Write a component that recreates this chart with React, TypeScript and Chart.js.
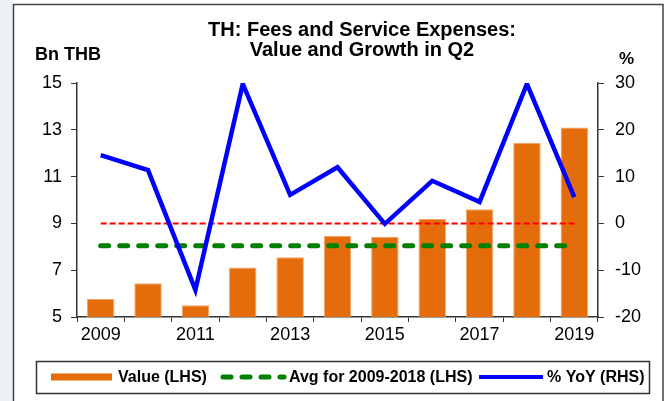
import React, { useEffect, useRef } from 'react';
import { Chart, registerables } from 'chart.js';

Chart.register(...registerables);

// ---------- data ----------
const years = ['2009', '2010', '2011', '2012', '2013', '2014', '2015', '2016', '2017', '2018', '2019'];
const valueBn = [5.77, 6.44, 5.5, 7.12, 7.55, 8.46, 8.43, 9.19, 9.6, 12.45, 13.1];
const yoyPct = [14.6, 11.4, -14.2, 29.8, 6.1, 12.0, -0.1, 9.1, 4.6, 29.8, 5.6];
const avg2009to2018 = 8.05;
const zeroRef = 0;
const leftAxis = { min: 5, max: 15, step: 2 };
const rightAxis = { min: -20, max: 30, step: 10 };
const titleLines = ['TH: Fees and Service Expenses:', 'Value and Growth in Q2'];
const leftUnit = 'Bn THB';
const rightUnit = '%';
const legendLabels = ['Value (LHS)', 'Avg for 2009-2018 (LHS)', '% YoY (RHS)'];

const FONT = "'Liberation Sans', Arial, sans-serif";
const ORANGE = '#E46C0A';
const GREEN = '#008000';
const BLUE = '#0000FF';
const RED = '#FF0000';

const decorations = {
  id: 'decorations',
  beforeDraw(chart: any) {
    const ctx = chart.ctx;
    ctx.save();
    ctx.fillStyle = '#ffffff';
    ctx.fillRect(0, 0, 669, 401);
    ctx.fillStyle = '#eef0f8';
    ctx.fillRect(0, 0, 13, 401);
    ctx.strokeStyle = '#444';
    ctx.lineWidth = 1.5;
    ctx.strokeRect(13.5, 4.5, 649.5, 420);
    ctx.restore();
  },
  afterDraw(chart: any) {
    const ctx = chart.ctx;
    ctx.save();
    ctx.fillStyle = '#000';
    ctx.textBaseline = 'alphabetic';
    // title
    ctx.font = `bold 20px ${FONT}`;
    ctx.textAlign = 'center';
    ctx.fillText(titleLines[0], 362, 36);
    ctx.fillText(titleLines[1], 362, 56);
    // units
    ctx.textAlign = 'left';
    ctx.font = `bold 18px ${FONT}`;
    ctx.fillText(leftUnit, 35, 60);
    ctx.font = `bold 17px ${FONT}`;
    ctx.fillText(rightUnit, 619, 64);

    // legend box
    ctx.strokeStyle = '#333';
    ctx.lineWidth = 1.5;
    ctx.strokeRect(36.5, 361.5, 613, 32);
    const cy = 377;
    ctx.fillStyle = ORANGE;
    ctx.fillRect(51, cy - 3.5, 61, 7);

    ctx.lineCap = 'round';
    ctx.strokeStyle = GREEN;
    ctx.lineWidth = 5;
    ctx.setLineDash([8, 11]);
    ctx.beginPath();
    ctx.moveTo(223, cy);
    ctx.lineTo(284, cy);
    ctx.stroke();
    ctx.setLineDash([]);

    ctx.lineCap = 'butt';
    ctx.strokeStyle = BLUE;
    ctx.lineWidth = 4;
    ctx.beginPath();
    ctx.moveTo(479, cy);
    ctx.lineTo(543, cy);
    ctx.stroke();

    ctx.fillStyle = '#000';
    ctx.font = `bold 16px ${FONT}`;
    ctx.textBaseline = 'middle';
    ctx.fillText(legendLabels[0], 118, cy + 1);
    ctx.fillText(legendLabels[1], 289, cy + 1);
    ctx.fillText(legendLabels[2], 547, cy + 1);
    ctx.restore();
  },
};

export default function App() {
  const ref = useRef<HTMLCanvasElement | null>(null);

  useEffect(() => {
    if (!ref.current) return;
    const avgData = years.map(() => avg2009to2018);
    const zeroData = years.map(() => zeroRef);
    const chart = new Chart(ref.current, {
      type: 'bar',
      data: {
        labels: years,
        datasets: [
          {
            type: 'bar',
            label: legendLabels[0],
            data: valueBn,
            backgroundColor: ORANGE,
            borderColor: '#F0A468',
            borderWidth: 1,
            yAxisID: 'y',
            barPercentage: 0.58,
            categoryPercentage: 1,
            order: 4,
          },
          {
            type: 'line',
            label: 'zero',
            data: zeroData,
            borderColor: RED,
            borderWidth: 2,
            borderDash: [6, 3],
            pointRadius: 0,
            yAxisID: 'y1',
            order: 3,
          },
          {
            type: 'line',
            label: legendLabels[1],
            data: avgData,
            borderColor: GREEN,
            borderWidth: 5,
            borderDash: [8, 11],
            borderCapStyle: 'round',
            pointRadius: 0,
            yAxisID: 'y',
            order: 2,
          },
          {
            type: 'line',
            label: legendLabels[2],
            data: yoyPct,
            borderColor: BLUE,
            borderWidth: 4.5,
            borderJoinStyle: 'miter',
            tension: 0,
            pointRadius: 0,
            yAxisID: 'y1',
            order: 1,
          },
        ] as any,
      },
      options: {
        responsive: false,
        animation: false,
        devicePixelRatio: 1,
        layout: { padding: { left: 0, right: 0, top: 83, bottom: 54 } },
        plugins: {
          legend: { display: false },
          title: { display: false },
          tooltip: { enabled: false },
        },
        scales: {
          x: {
            offset: true,
            grid: { display: true, drawOnChartArea: false, tickLength: 5, color: '#333', offset: true },
            border: { color: '#333', width: 1.5 },
            ticks: {
              autoSkip: false,
              maxRotation: 0,
              padding: 2,
              color: '#000',
              font: { family: FONT, size: 18 },
              callback: (_v: any, i: number) => (i % 2 === 0 ? years[i] : ''),
            },
            afterFit: (s: any) => { s.height = 30; },
          },
          y: {
            position: 'left',
            min: leftAxis.min,
            max: leftAxis.max,
            grid: { display: true, drawOnChartArea: false, tickLength: 6, color: '#333' },
            border: { color: '#333', width: 1.5 },
            ticks: {
              stepSize: leftAxis.step,
              padding: 9,
              color: '#000',
              font: { family: FONT, size: 18 },
            },
            afterFit: (s: any) => { s.width = 77; },
          },
          y1: {
            position: 'right',
            min: rightAxis.min,
            max: rightAxis.max,
            grid: { display: true, drawOnChartArea: false, tickLength: 6, color: '#333' },
            border: { color: '#333', width: 1.5 },
            ticks: {
              stepSize: rightAxis.step,
              padding: 11,
              color: '#000',
              font: { family: FONT, size: 18 },
            },
            afterFit: (s: any) => { s.width = 71; },
          },
        },
      } as any,
      plugins: [decorations],
    });
    return () => chart.destroy();
  }, []);

  return (
    <div style={{ position: 'absolute', left: 0, top: 0, width: 669, height: 401, background: '#fff' }}>
      <canvas ref={ref} width={669} height={401} style={{ display: 'block', width: 669, height: 401 }} />
    </div>
  );
}
